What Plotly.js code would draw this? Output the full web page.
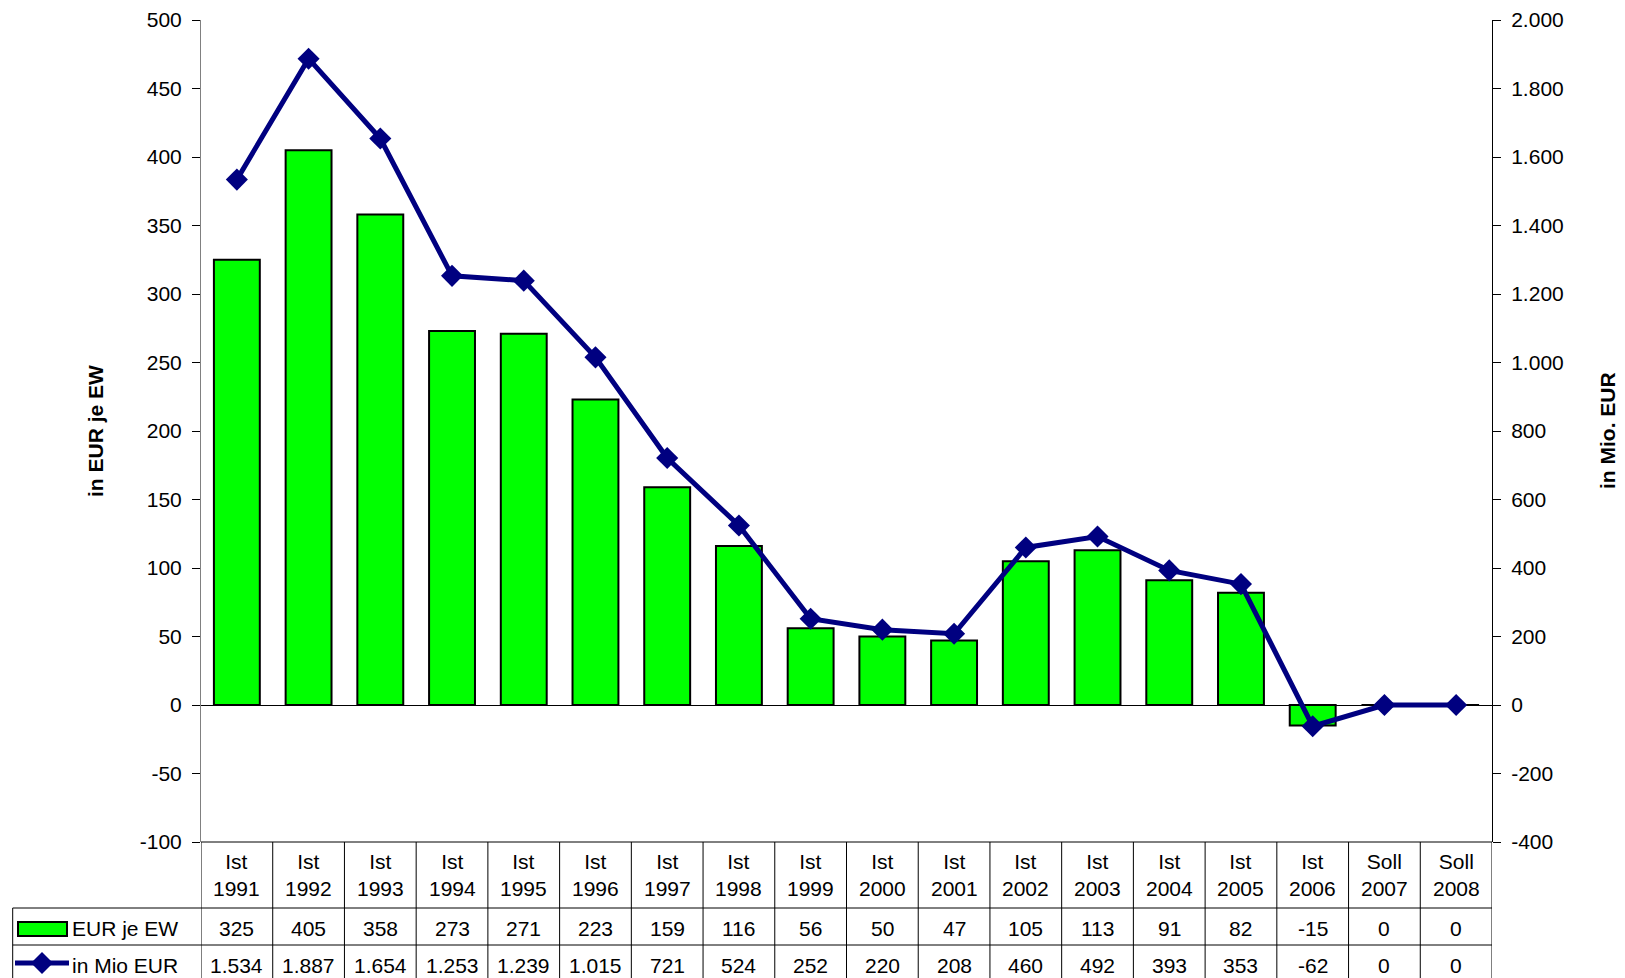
<!DOCTYPE html>
<html>
<head>
<meta charset="utf-8">
<script src="https://cdn.plot.ly/plotly-3.0.1.min.js"></script>
<style>
html,body{margin:0;padding:0;background:#fff;overflow:hidden;}
#chart{width:1625px;height:978px;}
</style>
</head>
<body>
<div id="chart"></div>
<script>
// ---- data ----
const status = ["Ist","Ist","Ist","Ist","Ist","Ist","Ist","Ist","Ist","Ist","Ist","Ist","Ist","Ist","Ist","Ist","Soll","Soll"];
const years = ["1991","1992","1993","1994","1995","1996","1997","1998","1999","2000","2001","2002","2003","2004","2005","2006","2007","2008"];
const eurJeEw = [325,405,358,273,271,223,159,116,56,50,47,105,113,91,82,-15,0,0];
const mioEur = [1534,1887,1654,1253,1239,1015,721,524,252,220,208,460,492,393,353,-62,0,0];
const seriesNames = ["EUR je EW","in Mio EUR"];
const leftTicks = [-100,-50,0,50,100,150,200,250,300,350,400,450,500];
const rightTicks = [-400,-200,0,200,400,600,800,1000,1200,1400,1600,1800,2000];
const leftTitle = "in EUR je EW";
const rightTitle = "in Mio. EUR";

// ---- geometry helpers (pixel -> paper) ----
const W = 1625, H = 978;
const mL = 201, mR = 133, mT = 20, mB = 136;
const pw = W - mL - mR, ph = H - mT - mB;
const px = x => (x - mL) / pw;
const py = y => (H - mB - y) / ph;

const FONT = "Liberation Sans, Arial, sans-serif";
const FS = 21;
const navy = "#000080";

function de(v){
  const s = String(Math.abs(v));
  const out = s.replace(/\B(?=(\d{3})+(?!\d))/g, ".");
  return (v < 0 ? "-" : "") + out;
}

const cats = years.map((y,i) => status[i] + " " + y);

const traces = [
  {
    type: "bar", name: seriesNames[0], x: cats, y: eurJeEw, yaxis: "y",
    marker: {color: "#00FF00", line: {color: "#000000", width: 2}},
    hoverinfo: "skip"
  },
  {
    type: "scatter", mode: "lines+markers", name: seriesNames[1], x: cats, y: mioEur, yaxis: "y2",
    line: {color: navy, width: 5},
    marker: {symbol: "diamond", size: 17, color: navy},
    hoverinfo: "skip"
  }
];

const annotations = [];
const shapes = [];

cats.forEach((c,i) => {
  annotations.push({x: c, xref: "x", y: py(875), yref: "paper", text: status[i] + "<br>" + years[i],
    showarrow: false, xanchor: "center", yanchor: "middle", font: {family: FONT, size: FS, color: "#000"}});
  annotations.push({x: c, xref: "x", y: py(928), yref: "paper", text: de(eurJeEw[i]),
    showarrow: false, xanchor: "center", yanchor: "middle", font: {family: FONT, size: FS, color: "#000"}});
  annotations.push({x: c, xref: "x", y: py(965), yref: "paper", text: de(mioEur[i]),
    showarrow: false, xanchor: "center", yanchor: "middle", font: {family: FONT, size: FS, color: "#000"}});
});
annotations.push({x: px(70), xref: "paper", y: py(928), yref: "paper", text: seriesNames[0],
  showarrow: false, xanchor: "left", yanchor: "middle", font: {family: FONT, size: FS, color: "#000"}});
annotations.push({x: px(70), xref: "paper", y: py(965), yref: "paper", text: seriesNames[1],
  showarrow: false, xanchor: "left", yanchor: "middle", font: {family: FONT, size: FS, color: "#000"}});
annotations.push({x: px(95), xref: "paper", y: 0.5, yref: "paper", text: "<b>" + leftTitle + "</b>", textangle: -90,
  showarrow: false, xanchor: "center", yanchor: "middle", font: {family: FONT, size: FS, color: "#000"}});
annotations.push({x: px(1607), xref: "paper", y: 0.5, yref: "paper", text: "<b>" + rightTitle + "</b>", textangle: -90,
  showarrow: false, xanchor: "center", yanchor: "middle", font: {family: FONT, size: FS, color: "#000"}});
annotations.push({x: px(1552), xref: "paper", y: py(973), yref: "paper", text: "<b>Teil</b>",
  showarrow: false, xanchor: "left", yanchor: "top", font: {family: FONT, size: FS, color: "#000"}});

const lineStyle = {color: "#000000", width: 1};
for (let i = 0; i <= cats.length; i++) {
  shapes.push({type: "line", xref: "x", yref: "paper", x0: i - 0.5, x1: i - 0.5, y0: 0, y1: py(H + 5), line: lineStyle});
}
shapes.push({type: "line", xref: "paper", yref: "paper", x0: 0, x1: 1, y0: 0, y1: 0, line: lineStyle});
shapes.push({type: "line", xref: "paper", yref: "paper", x0: px(12.7), x1: 1, y0: py(908), y1: py(908), line: lineStyle});
shapes.push({type: "line", xref: "paper", yref: "paper", x0: px(12.7), x1: 1, y0: py(945), y1: py(945), line: lineStyle});
shapes.push({type: "line", xref: "paper", yref: "paper", x0: px(12.7), x1: px(12.7), y0: py(908), y1: py(H + 5), line: lineStyle});
shapes.push({type: "rect", xref: "paper", yref: "paper", x0: px(18), x1: px(67), y0: py(936), y1: py(922),
  fillcolor: "#00FF00", line: {color: "#000", width: 2}});
shapes.push({type: "line", xref: "paper", yref: "paper", x0: px(15), x1: px(69), y0: py(963), y1: py(963),
  line: {color: navy, width: 5}});
{
  const cx = px(42), cy = py(963), dx = 11 / pw, dy = 11 / ph;
  shapes.push({type: "path", xref: "paper", yref: "paper",
    path: `M ${cx-dx},${cy} L ${cx},${cy+dy} L ${cx+dx},${cy} L ${cx},${cy-dy} Z`,
    fillcolor: navy, line: {color: navy, width: 0}});
}

const layout = {
  width: W, height: H,
  margin: {l: mL, r: mR, t: mT, b: mB, pad: 0},
  paper_bgcolor: "#fff", plot_bgcolor: "#fff",
  separators: ",.",
  showlegend: false,
  bargap: 0.36,
  font: {family: FONT, size: FS, color: "#000"},
  xaxis: {type: "category", range: [-0.5, cats.length - 0.5], showticklabels: false, ticks: "",
    showgrid: false, zeroline: false, showline: false, fixedrange: true},
  yaxis: {range: [-100, 500], tickmode: "array", tickvals: leftTicks, ticktext: leftTicks.map(de),
    showgrid: false, zeroline: true, zerolinecolor: "#000", zerolinewidth: 1,
    showline: true, linecolor: "#808080", linewidth: 1, ticks: "outside", ticklen: 8, tickcolor: "#000", tickwidth: 1,
    ticklabelstandoff: 6, tickfont: {family: FONT, size: FS, color: "#000"}, fixedrange: true},
  yaxis2: {range: [-400, 2000], tickmode: "array", tickvals: rightTicks, ticktext: rightTicks.map(de),
    overlaying: "y", side: "right", showgrid: false, zeroline: false,
    showline: true, linecolor: "#000", linewidth: 1, ticks: "outside", ticklen: 8, tickcolor: "#000", tickwidth: 1,
    ticklabelstandoff: 6, tickfont: {family: FONT, size: FS, color: "#000"}, fixedrange: true},
  yaxis3: {range: [-100, 500], tickmode: "array", tickvals: leftTicks, overlaying: "y", side: "left", anchor: "x", showgrid: false, zeroline: false,
    showline: false, ticks: "inside", ticklen: 7, tickcolor: "#000", showticklabels: false, fixedrange: true},
  yaxis4: {range: [-400, 2000], tickmode: "array", tickvals: rightTicks, overlaying: "y", side: "right", anchor: "x", showgrid: false, zeroline: false,
    showline: false, ticks: "inside", ticklen: 7, tickcolor: "#000", showticklabels: false, fixedrange: true},
  annotations: annotations,
  shapes: shapes
};

Plotly.newPlot("chart", traces, layout, {displayModeBar: false, staticPlot: true});
</script>
</body>
</html>
